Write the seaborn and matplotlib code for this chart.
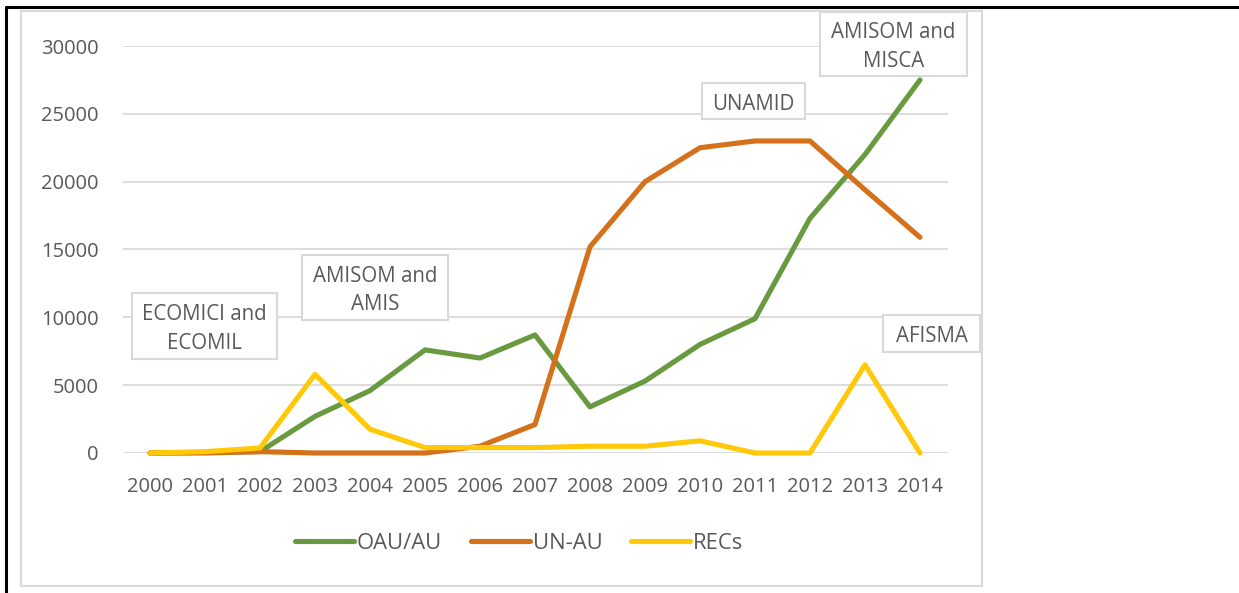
import pandas as pd
import seaborn as sns
import matplotlib.pyplot as plt
from matplotlib.patches import Rectangle
from matplotlib.lines import Line2D

years = [str(y) for y in range(2000, 2015)]
oau_au = [0, 50, 100, 2700, 4600, 7600, 7000, 8700, 3400, 5300, 8000, 9900, 17300, 22000, 27500]
un_au = [0, 0, 100, 0, 0, 0, 500, 2100, 15200, 20000, 22500, 23000, 23000, 19400, 15900]
recs = [0, 100, 370, 5800, 1750, 400, 400, 400, 500, 500, 900, 0, 0, 6500, 0]

series = ['OAU/AU', 'UN-AU', 'RECs']
colors = ['#699A3F', '#D4711A', '#FFC90A']
txt = '#595959'
grid = '#D9D9D9'

df = pd.DataFrame({'Year': years, 'OAU/AU': oau_au, 'UN-AU': un_au, 'RECs': recs})
dfl = df.melt(id_vars='Year', var_name='Series', value_name='Troops')
dfl['pos'] = dfl['Year'].astype(int) - 2000

sns.set_style('white')
plt.rcParams['font.family'] = ['Open Sans', 'DejaVu Sans']

fig = plt.figure(figsize=(12.39, 5.93), dpi=100)
ax = fig.add_axes([122.5 / 1239, 1 - 453 / 593, 825 / 1239, 407 / 593])

sns.lineplot(data=dfl, x='pos', y='Troops', hue='Series', hue_order=series,
             palette=colors, linewidth=3.7, ax=ax, legend=False)
for ln in ax.get_lines():
    ln.set_clip_on(False)
    ln.set_solid_joinstyle('round')
    ln.set_zorder(3)

ax.set_xlim(-0.5, 14.5)
ax.set_ylim(0, 30000)
ax.set_yticks(range(0, 30001, 5000))
ax.set_xticks(range(15))
ax.set_xticklabels(years)
ax.yaxis.grid(True, color=grid, linewidth=1.3)
ax.set_axisbelow(True)
for s in ax.spines.values():
    s.set_visible(False)
ax.tick_params(axis='both', length=0, labelsize=14.5, colors=txt)
ax.tick_params(axis='y', pad=17)
ax.tick_params(axis='x', pad=17)
ax.set_xlabel('')
ax.set_ylabel('')

# annotation boxes (pixel boxes: x0, y0, x1, y1 from top)
boxes = [
    ('ECOMICI and\nECOMIL', 132, 293, 277, 359),
    ('AMISOM and\nAMIS', 302, 255, 448, 320),
    ('UNAMID', 702, 83, 805, 119),
    ('AMISOM and\nMISCA', 820, 12, 967, 76),
    ('AFISMA', 883, 315, 980, 352),
]
W, H = 1239, 593
for label, x0, y0, x1, y1 in boxes:
    fig.patches.append(Rectangle((x0 / W, 1 - y1 / H), (x1 - x0) / W, (y1 - y0) / H,
                                 transform=fig.transFigure, facecolor='white',
                                 edgecolor=grid, linewidth=1.5, zorder=5))
    fig.text((x0 + x1) / 2 / W, 1 - ((y0 + y1) / 2 + 3) / H, label, ha='center', va='center',
             fontsize=14.8, color=txt, linespacing=1.5, zorder=6)

# chart area border and outer black frame
fig.patches.append(Rectangle((21 / W, 1 - 586 / H), 961 / W, 575 / H, transform=fig.transFigure,
                             facecolor='none', edgecolor=grid, linewidth=1.5, zorder=1))
fig.add_artist(Line2D([6 / W, 1], [1 - 7 / H, 1 - 7 / H], color='black', linewidth=2.2))
fig.add_artist(Line2D([6 / W, 6 / W], [0, 1 - 7 / H], color='black', linewidth=2.2))

handles = [Line2D([0], [0], color=c, linewidth=3.7, solid_capstyle='round') for c in colors]
leg = fig.legend(handles, series, loc='center', bbox_to_anchor=(0.419, 0.084), ncol=3,
                 frameon=False, fontsize=15.8, handlelength=2.7, handletextpad=0.12,
                 columnspacing=1.3)
for t in leg.get_texts():
    t.set_color(txt)

fig.savefig('out.png', dpi=100)
